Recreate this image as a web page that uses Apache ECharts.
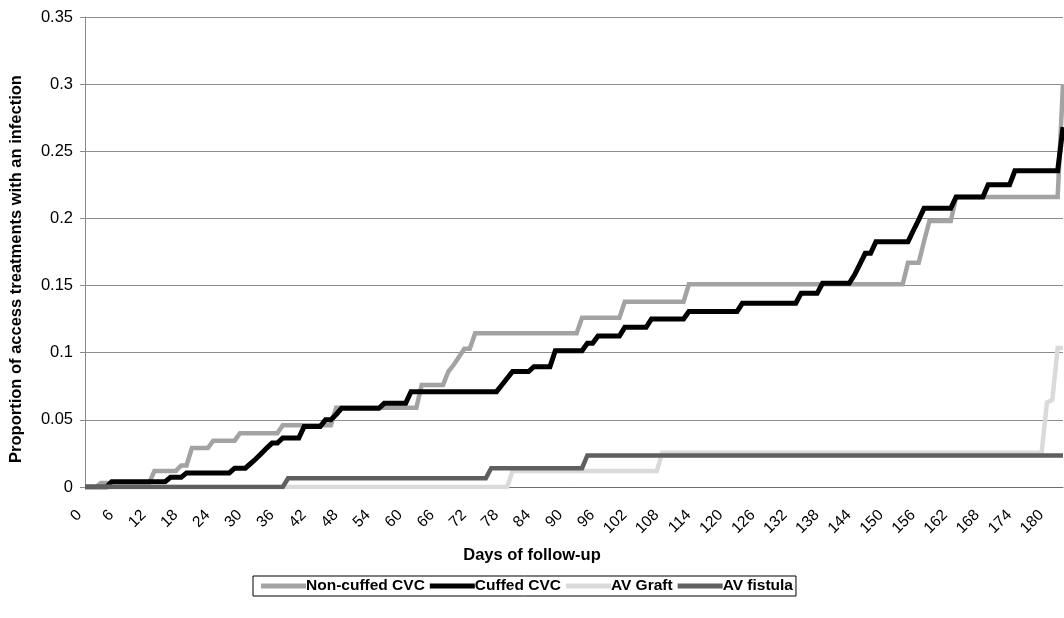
<!DOCTYPE html>
<html>
<head>
<meta charset="utf-8">
<script src="https://cdn.jsdelivr.net/npm/echarts@6/dist/echarts.min.js"></script>
<style>
html,body{margin:0;padding:0;background:#fff;}
#chart{width:1064px;height:618px;}
</style>
</head>
<body>
<div id="chart"></div>
<script>
// ---- Data ----
const seriesNames = ['Non-cuffed CVC', 'Cuffed CVC', 'AV Graft', 'AV fistula'];
const lastDay = 183;
const xTickStep = 6;
const yTicks = [0, 0.05, 0.1, 0.15, 0.2, 0.25, 0.3, 0.35];

// day at which each new level is reached, and that level
const nonCuffedDays   = [3, 13, 18, 20, 24, 29, 37, 47, 63, 68, 69, 70, 71, 73, 93, 101, 113, 154, 157, 158, 163, 183];
const nonCuffedValues = [0.003, 0.012, 0.016, 0.029, 0.0345, 0.040, 0.046, 0.059, 0.076, 0.086, 0.091, 0.097, 0.103, 0.1145, 0.126, 0.138, 0.151, 0.167, 0.183, 0.198, 0.216, 0.30];

const cuffedDays   = [5, 16, 19, 28, 31, 32, 33, 34, 35, 37, 41, 45, 47, 48, 56, 61, 78, 79, 80, 84, 88, 94, 96, 101, 106, 113, 123, 134, 138, 144, 145, 146, 148, 155, 156, 157, 163, 169, 174, 183];
const cuffedValues = [0.004, 0.0072, 0.0105, 0.014, 0.0175, 0.021, 0.025, 0.029, 0.0327, 0.0365, 0.045, 0.050, 0.054, 0.0586, 0.0623, 0.071, 0.076, 0.081, 0.086, 0.0896, 0.1015, 0.107, 0.1124, 0.1189, 0.1251, 0.1306, 0.1368, 0.1442, 0.1517, 0.158, 0.166, 0.174, 0.1827, 0.191, 0.199, 0.2075, 0.216, 0.225, 0.2355, 0.268];

const graftDays   = [80, 108, 180, 181, 182];
const graftValues = [0.012, 0.0255, 0.063, 0.065, 0.1035];

const fistulaDays   = [38, 76, 94];
const fistulaValues = [0.0065, 0.014, 0.0235];

// ---- Build daily step paths (value carried forward between events) ----
function buildSteps(days, vals, endDay) {
  const pts = [[0, 0]];
  let prev = 0;
  for (let i = 0; i < days.length; i++) {
    const d = days[i];
    if (pts[pts.length - 1][0] < d - 1) pts.push([d - 1, prev]);
    pts.push([d, vals[i]]);
    prev = vals[i];
  }
  if (pts[pts.length - 1][0] < endDay) pts.push([endDay, prev]);
  return pts;
}

const colors = ['#a3a3a3', '#000000', '#dadada', '#5f5f5f'];
const widths = [4.5, 5, 4.5, 4.5];
const dataSets = [
  buildSteps(nonCuffedDays, nonCuffedValues, lastDay),
  buildSteps(cuffedDays, cuffedValues, lastDay),
  buildSteps(graftDays, graftValues, lastDay),
  buildSteps(fistulaDays, fistulaValues, lastDay)
];

const FONT = "'Liberation Sans', Arial, Helvetica, sans-serif";
const chart = echarts.init(document.getElementById('chart'), null, {renderer: 'canvas'});

chart.setOption({
  animation: false,
  backgroundColor: '#ffffff',
  textStyle: {fontFamily: FONT},
  grid: {left: 85, top: 17, right: 1, bottom: 131, containLabel: false},
  xAxis: {
    type: 'value',
    min: 0,
    max: lastDay,
    interval: xTickStep,
    name: 'Days of follow-up',
    nameLocation: 'middle',
    nameGap: 60,
    nameTextStyle: {fontFamily: FONT, fontSize: 16.5, fontWeight: 'bold', color: '#000', padding: [0, 84, 0, 0]},
    axisLine: {show: true, lineStyle: {color: '#6e6e6e', width: 1}},
    axisTick: {show: false},
    splitLine: {show: false},
    axisLabel: {
      rotate: 45,
      margin: 20,
      padding: [0, 8, 0, 0],
      fontFamily: FONT,
      fontSize: 15.5,
      color: '#000',
      showMaxLabel: false,
      formatter: function (v) { return (v % xTickStep === 0) ? String(v) : ''; }
    }
  },
  yAxis: {
    type: 'value',
    min: yTicks[0],
    max: yTicks[yTicks.length - 1],
    interval: 0.05,
    name: 'Proportion of access treatments with an infection',
    nameLocation: 'middle',
    nameGap: 60,
    nameRotate: 90,
    nameTextStyle: {fontFamily: FONT, fontSize: 16.5, fontWeight: 'bold', color: '#000', padding: [0, 34, 0, 0]},
    axisLine: {show: true, lineStyle: {color: '#8a8a8a', width: 1}},
    axisTick: {show: true, inside: false, length: 5, lineStyle: {color: '#8a8a8a'}},
    splitLine: {show: true, lineStyle: {color: '#8c8c8c', width: 1}},
    axisLabel: {
      margin: 12,
      fontFamily: FONT,
      fontSize: 16.5,
      color: '#000',
      formatter: function (v) { return String(parseFloat(v.toFixed(2))); }
    }
  },
  legend: {
    left: 253,
    top: 576,
    orient: 'horizontal',
    data: seriesNames,
    icon: 'rect',
    itemWidth: 45,
    itemHeight: 5,
    itemGap: 5,
    padding: [2, 3, 2, 8],
    borderColor: '#000',
    borderWidth: 1,
    textStyle: {fontFamily: FONT, fontSize: 15.5, fontWeight: 'bold', color: '#000', padding: [0, 0, 0, -5]}
  },
  series: seriesNames.map(function (name, i) {
    return {
      name: name,
      type: 'line',
      data: dataSets[i],
      showSymbol: false,
      symbol: 'none',
      lineStyle: {color: colors[i], width: widths[i], join: 'miter'},
      itemStyle: {color: colors[i]},
      z: 2 + i
    };
  })
});
</script>
</body>
</html>
